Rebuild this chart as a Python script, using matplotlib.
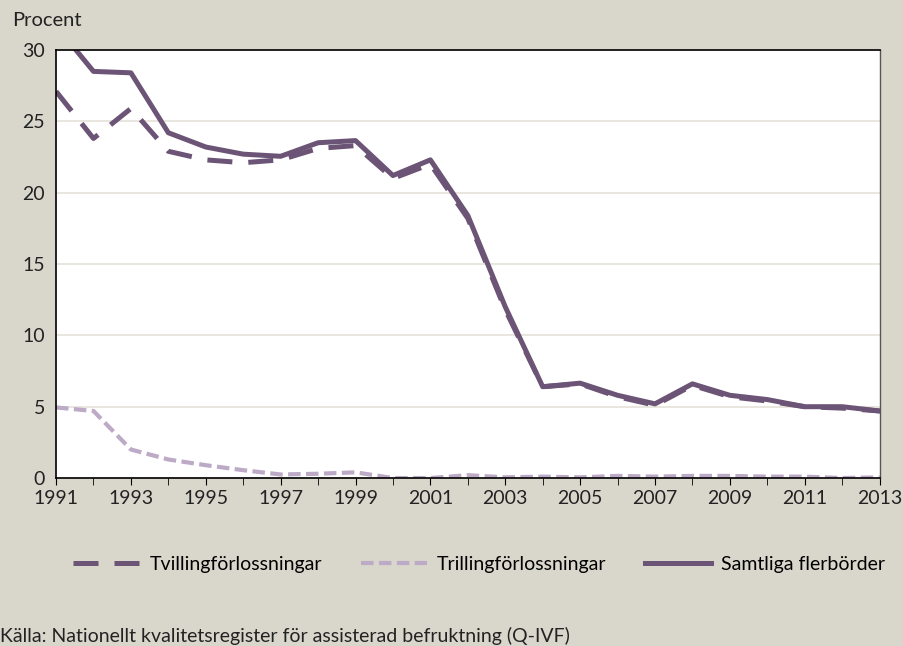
import numpy as np
import matplotlib
matplotlib.use("Agg")
from matplotlib import pyplot as plt

# data
years = list(range(1991, 2014))
tvilling = [27.1, 23.8, 25.9, 22.9, 22.3, 22.1, 22.3, 23.1, 23.3, 21.0, 22.0, 18.2,
            11.8, 6.4, 6.6, 5.7, 5.1, 6.5, 5.7, 5.4, 5.0, 4.9, 4.7]
trilling = [4.95, 4.7, 2.0, 1.3, 0.9, 0.55, 0.25, 0.3, 0.4, 0.0, 0.0, 0.2,
            0.05, 0.1, 0.05, 0.15, 0.1, 0.15, 0.15, 0.1, 0.1, 0.0, 0.05]
samtliga = [31.7, 28.5, 28.4, 24.2, 23.2, 22.7, 22.55, 23.5, 23.65, 21.2, 22.3, 18.4,
            12.0, 6.4, 6.65, 5.8, 5.2, 6.6, 5.8, 5.5, 5.0, 5.0, 4.7]
labels = ["Tvillingförlossningar", "Trillingförlossningar", "Samtliga flerbörder"]

bg = "#d9d7cc"
dark = "#6b5475"
light = "#bcaac6"

plt.rcParams['font.family'] = ['Lato', 'DejaVu Sans']

fig = plt.figure(figsize=(9.04, 6.46), dpi=100, facecolor=bg)
ax = fig.add_axes([0.062, 0.26, 0.911, 0.6626])
ax.set_facecolor("white")

l1, = ax.plot(years, tvilling, color=dark, lw=3.6, dashes=(5, 3.2), label=labels[0])
l2, = ax.plot(years, trilling, color=light, lw=3.0, dashes=(3, 1.3), label=labels[1])
l3, = ax.plot(years, samtliga, color=dark, lw=3.6, label=labels[2])

ax.set_xlim(1991, 2013)
ax.set_ylim(0, 30)
ax.set_yticks(range(0, 31, 5))
ax.set_xticks(range(1991, 2014, 2))
ax.set_xticks(range(1991, 2014), minor=True)
ax.yaxis.grid(True, color="#e4e2d9", lw=1.2)
ax.set_axisbelow(True)
ax.tick_params(axis="y", length=0, labelsize=14, pad=8, colors="#222222")
ax.tick_params(axis="x", which="both", direction="out", length=5, color="black",
               labelsize=14, colors="#222222")
for s in ["left", "bottom", "top"]:
    ax.spines[s].set_color("black")
    ax.spines[s].set_linewidth(1.2)
ax.spines["right"].set_color("#555555")
ax.spines["right"].set_linewidth(1.0)

fig.text(0.013, 0.968, "Procent", fontsize=14.5, color="#222222", va="center")

fig.legend(handles=[l1, l2, l3], loc="center", bbox_to_anchor=(0.53, 0.126), ncol=3,
           frameon=False, fontsize=14, handlelength=3.4, columnspacing=2.0,
           handletextpad=0.5)

fig.text(0.0, 0.016, "Källa: Nationellt kvalitetsregister för assisterad befruktning (Q-IVF)",
         fontsize=14, color="#222222", va="center")

fig.savefig("out.png", dpi=100, facecolor=bg)
